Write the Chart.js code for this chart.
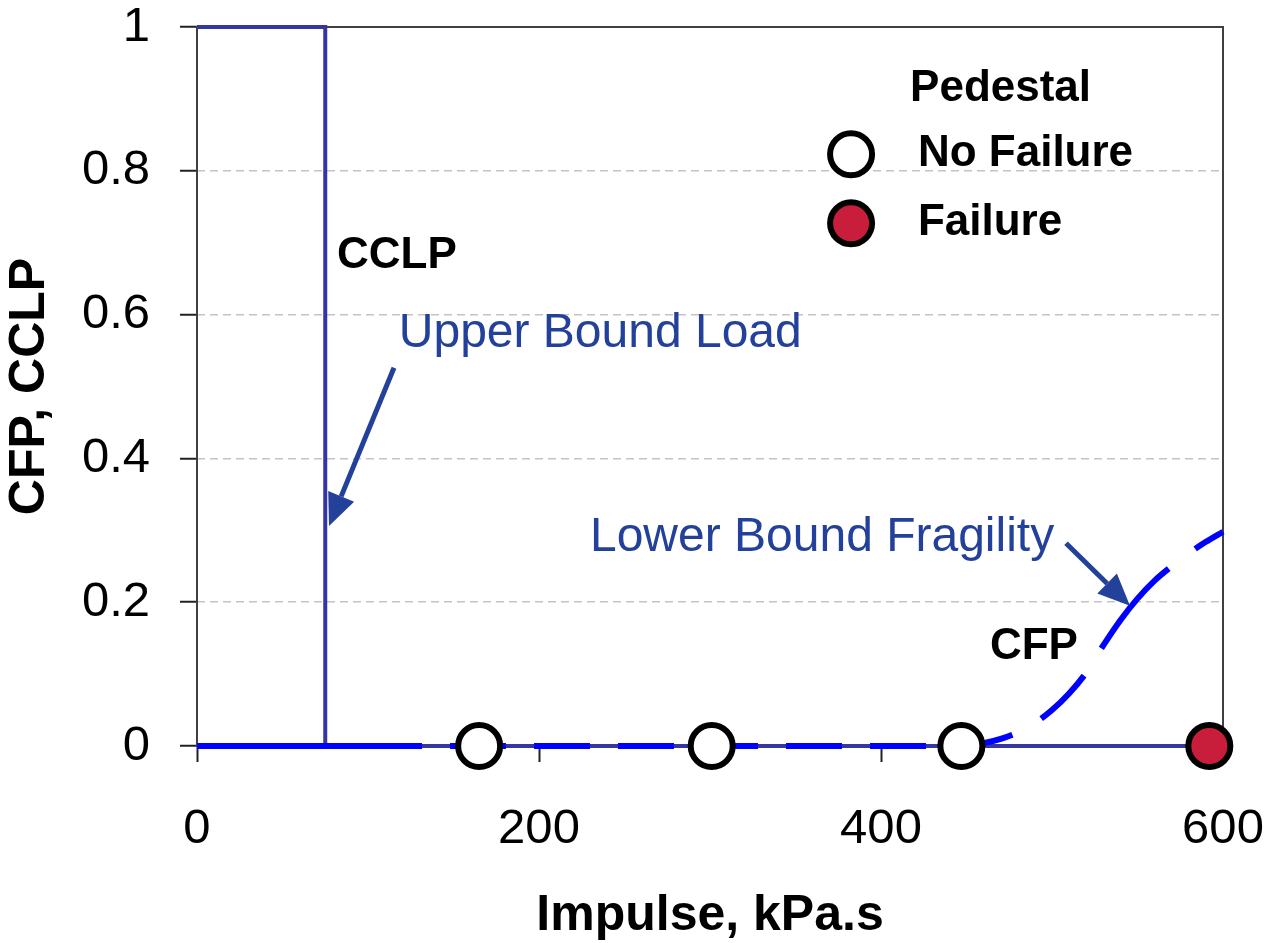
<!DOCTYPE html>
<html>
<head>
<meta charset="utf-8">
<script src="https://cdn.jsdelivr.net/npm/chart.js@4"></script>
<style>
  html, body { margin: 0; padding: 0; background: #fff; }
  #wrap { width: 1268px; height: 943px; position: relative; }
</style>
</head>
<body>
<div id="wrap"><canvas id="myChart"></canvas></div>
<script>
// upper bound load (CCLP) step curve
var cclpX = [0, 75, 75, 600];
var cclpY = [1, 1, 0, 0];

// lower bound fragility (CFP)
var cfpX = [0, 450, 460, 470, 480, 490, 500, 510, 520, 530, 540, 550, 560, 570, 580, 590, 600];
var cfpY = [0, 0, 0.004, 0.010, 0.019, 0.032, 0.050, 0.073, 0.102, 0.140, 0.175, 0.205, 0.230, 0.250, 0.268, 0.284, 0.298];

// pedestal tests
var noFailX = [165, 301, 447];
var noFailY = [0, 0, 0];
var failX = [592];
var failY = [0];

var xTicks = [0, 200, 400, 600];
var yTicks = [0, 0.2, 0.4, 0.6, 0.8, 1];

function pts(xs, ys) {
  return xs.map(function(x, i) { return {x: x, y: ys[i]}; });
}

var FONT = "'Liberation Sans', Arial, sans-serif";
var NAVY = '#23409a';

function arrow(ctx, x1, y1, x2, y2) {
  var a = Math.atan2(y2 - y1, x2 - x1);
  var len = 32, hw = 14;
  var bx = x2 - len * Math.cos(a), by = y2 - len * Math.sin(a);
  ctx.save();
  ctx.strokeStyle = NAVY;
  ctx.fillStyle = NAVY;
  ctx.lineWidth = 5;
  ctx.beginPath();
  ctx.moveTo(x1, y1);
  ctx.lineTo(bx, by);
  ctx.stroke();
  ctx.beginPath();
  ctx.moveTo(x2, y2);
  ctx.lineTo(bx + hw * Math.sin(a), by - hw * Math.cos(a));
  ctx.lineTo(bx - hw * Math.sin(a), by + hw * Math.cos(a));
  ctx.closePath();
  ctx.fill();
  ctx.restore();
}

function noPad(s) {
  s.paddingTop = 0; s.paddingBottom = 0; s.paddingLeft = 0; s.paddingRight = 0;
}

var framePlugin = {
  id: 'frame',
  beforeDatasetsDraw: function(chart) {
    var a = chart.chartArea, ctx = chart.ctx;
    ctx.save();
    ctx.strokeStyle = '#404040';
    ctx.lineWidth = 2;
    ctx.strokeRect(a.left, a.top, a.right - a.left, a.bottom - a.top);
    ctx.restore();
  }
};

var notesPlugin = {
  id: 'notes',
  afterDraw: function(chart) {
    var ctx = chart.ctx;
    var xs = chart.scales.x, ys = chart.scales.y;
    function px(v) { return xs.getPixelForValue(v); }
    function py(v) { return ys.getPixelForValue(v); }

    ctx.save();
    ctx.textBaseline = 'middle';
    ctx.textAlign = 'left';

    // labels on the curves
    ctx.fillStyle = '#000';
    ctx.font = 'bold 44px ' + FONT;
    ctx.fillText('CCLP', px(81.9), py(0.682));
    ctx.fillText('CFP', px(463.7), py(0.138));

    ctx.fillStyle = NAVY;
    ctx.font = '48px ' + FONT;
    ctx.fillText('Upper Bound Load', px(118), py(0.574));
    ctx.fillText('Lower Bound Fragility', px(229.8), py(0.29));

    arrow(ctx, px(115.2), py(0.526), px(77.2), py(0.306));
    arrow(ctx, px(508.2), py(0.282), px(545.6), py(0.195));

    // legend
    var ds = chart.data.datasets;
    ctx.fillStyle = '#000';
    ctx.font = 'bold 44px ' + FONT;
    ctx.fillText('Pedestal', px(417), py(0.914));
    [[ds[0], 0.823], [ds[1], 0.727]].forEach(function(it) {
      var d = it[0];
      ctx.beginPath();
      ctx.arc(px(382.5), py(it[1]), d.pointRadius, 0, Math.PI * 2);
      ctx.fillStyle = d.backgroundColor;
      ctx.fill();
      ctx.lineWidth = d.borderWidth;
      ctx.strokeStyle = d.borderColor;
      ctx.stroke();
      ctx.fillStyle = '#000';
      ctx.fillText(d.label, px(421.6), py(it[1]));
    });
    ctx.restore();
  }
};

new Chart(document.getElementById('myChart'), {
  type: 'scatter',
  data: {
    datasets: [{
      label: 'No Failure',
      data: pts(noFailX, noFailY),
      backgroundColor: '#ffffff',
      borderColor: '#000000',
      borderWidth: 6,
      pointRadius: 21,
      clip: false,
      order: 0
    }, {
      label: 'Failure',
      data: pts(failX, failY),
      backgroundColor: '#c81e3c',
      borderColor: '#000000',
      borderWidth: 6,
      pointRadius: 21,
      clip: false,
      order: 0
    }, {
      label: 'CFP',
      data: pts(cfpX, cfpY),
      showLine: true,
      borderColor: '#0000ff',
      borderWidth: 6,
      borderDash: [225, 28, 56, 28, 56, 28, 56, 28, 56, 28, 56, 28, 56, 28, 60, 33, 61, 32, 105, 33, 200, 20],
      cubicInterpolationMode: 'monotone',
      pointRadius: 0,
      clip: false,
      order: 1
    }, {
      label: 'CCLP',
      data: pts(cclpX, cclpY),
      showLine: true,
      borderColor: '#3636a2',
      borderWidth: 4,
      tension: 0,
      pointRadius: 0,
      clip: false,
      order: 2
    }]
  },
  options: {
    responsive: true,
    maintainAspectRatio: false,
    animation: false,
    layout: { padding: { top: 22, right: 45, left: 0, bottom: 0 } },
    plugins: {
      legend: { display: false },
      tooltip: { enabled: false }
    },
    scales: {
      x: {
        type: 'linear',
        min: 0,
        max: 600,
        afterBuildTicks: function(s) { s.ticks = xTicks.map(function(v) { return {value: v}; }); },
        afterFit: function(s) { s.height = 197; noPad(s); },
        grid: { drawOnChartArea: false, drawTicks: true, tickLength: 16, tickColor: '#222', tickWidth: 2 },
        border: { display: false },
        ticks: {
          color: '#000', padding: 38, maxRotation: 0,
          font: { family: FONT, size: 49 },
          callback: function(v) { return String(v); }
        },
        title: {
          display: true,
          text: 'Impulse, kPa.s',
          color: '#000',
          font: { family: FONT, size: 50, weight: 'bold', lineHeight: 1.0 },
          padding: { top: 0, bottom: 2 }
        }
      },
      y: {
        type: 'linear',
        min: 0,
        max: 1,
        afterBuildTicks: function(s) { s.ticks = yTicks.map(function(v) { return {value: v}; }); },
        afterFit: function(s) { s.width = 197; noPad(s); },
        grid: {
          color: function(c) {
            var v = c.tick ? c.tick.value : null;
            return (v === 0 || v === 1) ? 'rgba(0,0,0,0)' : '#c4c4c4';
          },
          lineWidth: 1.5,
          tickLength: 17,
          tickColor: '#222',
          tickWidth: 2,
          tickBorderDash: [1, 0]
        },
        border: { display: false, dash: [8, 5] },
        ticks: {
          color: '#000', padding: 30,
          font: { family: FONT, size: 49, lineHeight: 0.8 },
          callback: function(v) { return String(v); }
        },
        title: {
          display: true,
          text: 'CFP, CCLP',
          color: '#000',
          font: { family: FONT, size: 50, weight: 'bold', lineHeight: 1.2 },
          padding: { top: 0, bottom: 0 }
        }
      }
    }
  },
  plugins: [framePlugin, notesPlugin]
});
</script>
</body>
</html>
